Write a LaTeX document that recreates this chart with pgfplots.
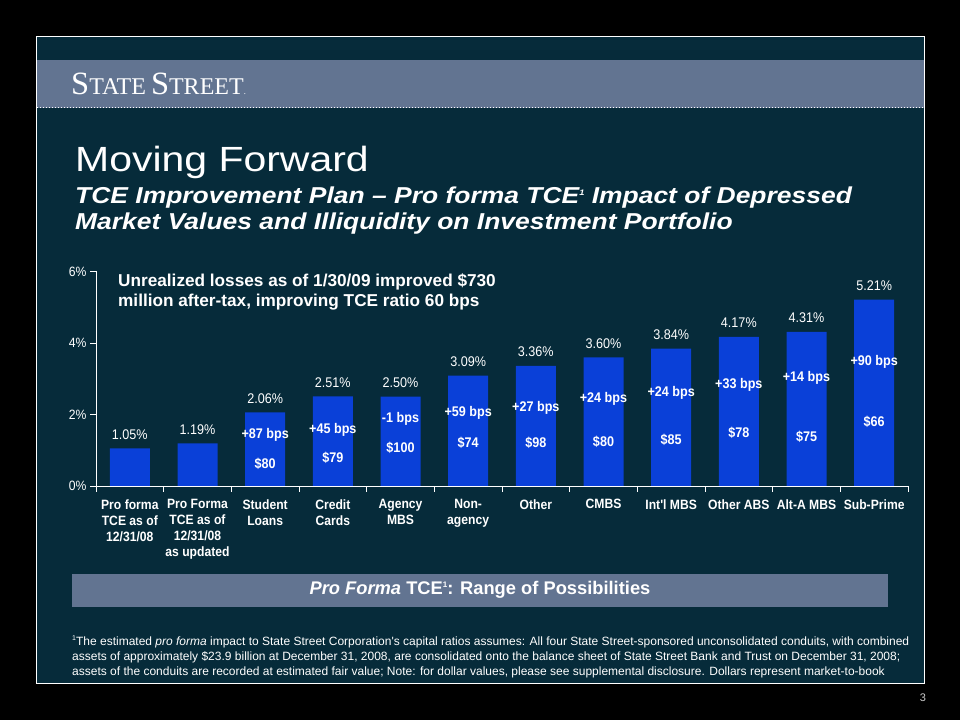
\documentclass[border=0pt]{standalone}
\usepackage{fontspec}
\setmainfont{Liberation Sans}
\newfontfamily\narrowf[FakeStretch=0.9]{Liberation Sans}
\newfontfamily\titlef[FakeStretch=1.17]{Liberation Sans}
\newfontfamily\subf[FakeStretch=1.15]{Liberation Sans}
\newfontfamily\footf{Liberation Sans}
\newfontfamily\logof{Liberation Serif}
\usepackage{pgfplots}
\pgfplotsset{compat=1.18}
\definecolor{panelc}{RGB}{6,43,58}
\definecolor{bandc}{RGB}{98,116,145}
\definecolor{barc}{RGB}{10,64,216}
\begin{document}
\begin{tikzpicture}[x=1pt,y=1pt]
\fill[black] (0,0) rectangle (960,720);
\fill[panelc] (36,37) rectangle (924,684);
\draw[white,line width=0.9pt] (36,37) rectangle (924,684);
\fill[bandc] (36.5,612) rectangle (923.5,660);
\draw[white,line width=1pt,dash pattern=on 1pt off 2pt] (37,612) -- (923,612);
% logo
\node[anchor=base west,inner sep=0,text=white] at (71,625.5)
  {\logof\fontsize{32.5}{32.5}\selectfont S\fontsize{24}{24}\selectfont TATE\hspace{5pt}\fontsize{32.5}{32.5}\selectfont S\fontsize{24}{24}\selectfont TREET\textcolor{white!80!bandc}{\fontsize{10}{10}\selectfont.}};
% title
\node[anchor=base west,inner sep=0,text=white] at (75,548)
  {\titlef\fontsize{35}{35}\selectfont Moving Forward};
\node[anchor=base west,inner sep=0,text=white] at (75,516)
  {\subf\bfseries\itshape\fontsize{23}{23}\selectfont TCE Improvement Plan \textendash{} Pro forma TCE\raisebox{8pt}{\fontsize{8}{8}\selectfont 1} Impact of Depressed};
\node[anchor=base west,inner sep=0,text=white] at (75,490)
  {\subf\bfseries\itshape\fontsize{23}{23}\selectfont Market Values and Illiquidity on Investment Portfolio};
% chart note
\node[anchor=base west,inner sep=0,text=white] at (118,433)
  {\bfseries\fontsize{17.2}{17.2}\selectfont Unrealized losses as of 1/30/09 improved \$730};
\node[anchor=base west,inner sep=0,text=white] at (118,413)
  {\bfseries\fontsize{17.2}{17.2}\selectfont million after-tax, improving TCE ratio 60 bps};
% banner
\fill[bandc] (72,113) rectangle (888,146);
\node[anchor=center,inner sep=0,text=white] at (480,130)
  {\bfseries\fontsize{18.3}{18.3}\selectfont \textit{Pro Forma} TCE\raisebox{7pt}{\fontsize{8}{8}\selectfont 1}: Range of Possibilities};
% footnote
\node[anchor=base west,inner sep=0,text=white] at (72,75)
  {\footf\fontsize{12}{12}\selectfont\raisebox{4.5pt}{\fontsize{7}{7}\selectfont 1}The estimated \textit{pro forma} impact to State Street Corporation's capital ratios assumes: All four State Street-sponsored unconsolidated conduits, with combined};
\node[anchor=base west,inner sep=0,text=white] at (72,60)
  {\footf\fontsize{12}{12}\selectfont assets of approximately \$23.9 billion at December 31, 2008, are consolidated onto the balance sheet of State Street Bank and Trust on December 31, 2008;};
\node[anchor=base west,inner sep=0,text=white] at (72,45)
  {\footf\fontsize{12}{12}\selectfont assets of the conduits are recorded at estimated fair value; Note: for dollar values, please see supplemental disclosure. Dollars represent market-to-book};
\node[anchor=center,inner sep=0,text=white!80!black] at (923,22)
  {\fontsize{11}{11}\selectfont 3};
% chart
\begin{axis}[
  at={(96pt,234pt)}, anchor=south west,
  scale only axis, width=812pt, height=214.5pt,
  xmin=-0.5, xmax=11.5, ymin=0, ymax=6,
  axis lines=left,
  axis line style={white,line width=0.8pt,-},
  /pgf/number format/assume math mode=true,
  clip=false,
  tick align=outside,
  major tick length=6pt, minor tick length=6pt,
  ytick={0,2,4,6}, yticklabels={0\%,2\%,4\%,6\%},
  ytick style={white,line width=0.8pt},
  y tick label style={text=white,font=\narrowf\fontsize{13.5}{13.5}\selectfont},
  xtick={0,...,11},
  xticklabels={{Pro forma\\TCE as of\\12/31/08},{Pro Forma\\TCE as of\\12/31/08\\as updated},{Student\\Loans},{Credit\\Cards},{Agency\\MBS},{Non-\\agency},Other,CMBS,{Int'l MBS},{Other ABS},{Alt-A MBS},Sub-Prime},
  minor xtick={-0.5,0.5,...,11.5},
  major x tick style={draw=none},
  minor x tick style={white,line width=0.8pt},
  x tick label style={text=white,align=center,anchor=north,yshift=-4pt,font=\narrowf\bfseries\fontsize{13.5}{16}\selectfont},
]
\addplot[ybar, bar width=40pt, fill=barc, draw=none,
  nodes near coords={\pgfmathprintnumber[fixed,fixed zerofill,precision=2]{\pgfplotspointmeta}\%},
  nodes near coords style={anchor=center,yshift=14pt,text=white,font=\narrowf\fontsize{14}{14}\selectfont}]
  coordinates {(0,1.05) (1,1.19) (2,2.06) (3,2.51) (4,2.50) (5,3.09) (6,3.36) (7,3.60) (8,3.84) (9,4.17) (10,4.31) (11,5.21)};
% bps change labels
\addplot[draw=none, mark=none, point meta=explicit symbolic,
  nodes near coords={\pgfplotspointmeta{} bps},
  nodes near coords style={anchor=center,text=white,font=\narrowf\bfseries\fontsize{14}{14}\selectfont}]
  table[col sep=comma, meta=lab] {
x,y,lab
2,1.43,+87
3,1.57,+45
4,1.87,-1
5,2.04,+59
6,2.18,+27
7,2.43,+24
8,2.60,+24
9,2.83,+33
10,3.02,+14
11,3.47,+90
};
% market-to-book labels
\addplot[draw=none, mark=none, point meta=explicit symbolic,
  nodes near coords={\$\pgfplotspointmeta},
  nodes near coords style={anchor=center,text=white,font=\narrowf\bfseries\fontsize{14}{14}\selectfont}]
  table[col sep=comma, meta=lab] {
x,y,lab
2,0.62,80
3,0.78,79
4,1.06,100
5,1.20,74
6,1.20,98
7,1.23,80
8,1.29,85
9,1.48,78
10,1.37,75
11,1.79,66
};
\end{axis}
\end{tikzpicture}
\end{document}
